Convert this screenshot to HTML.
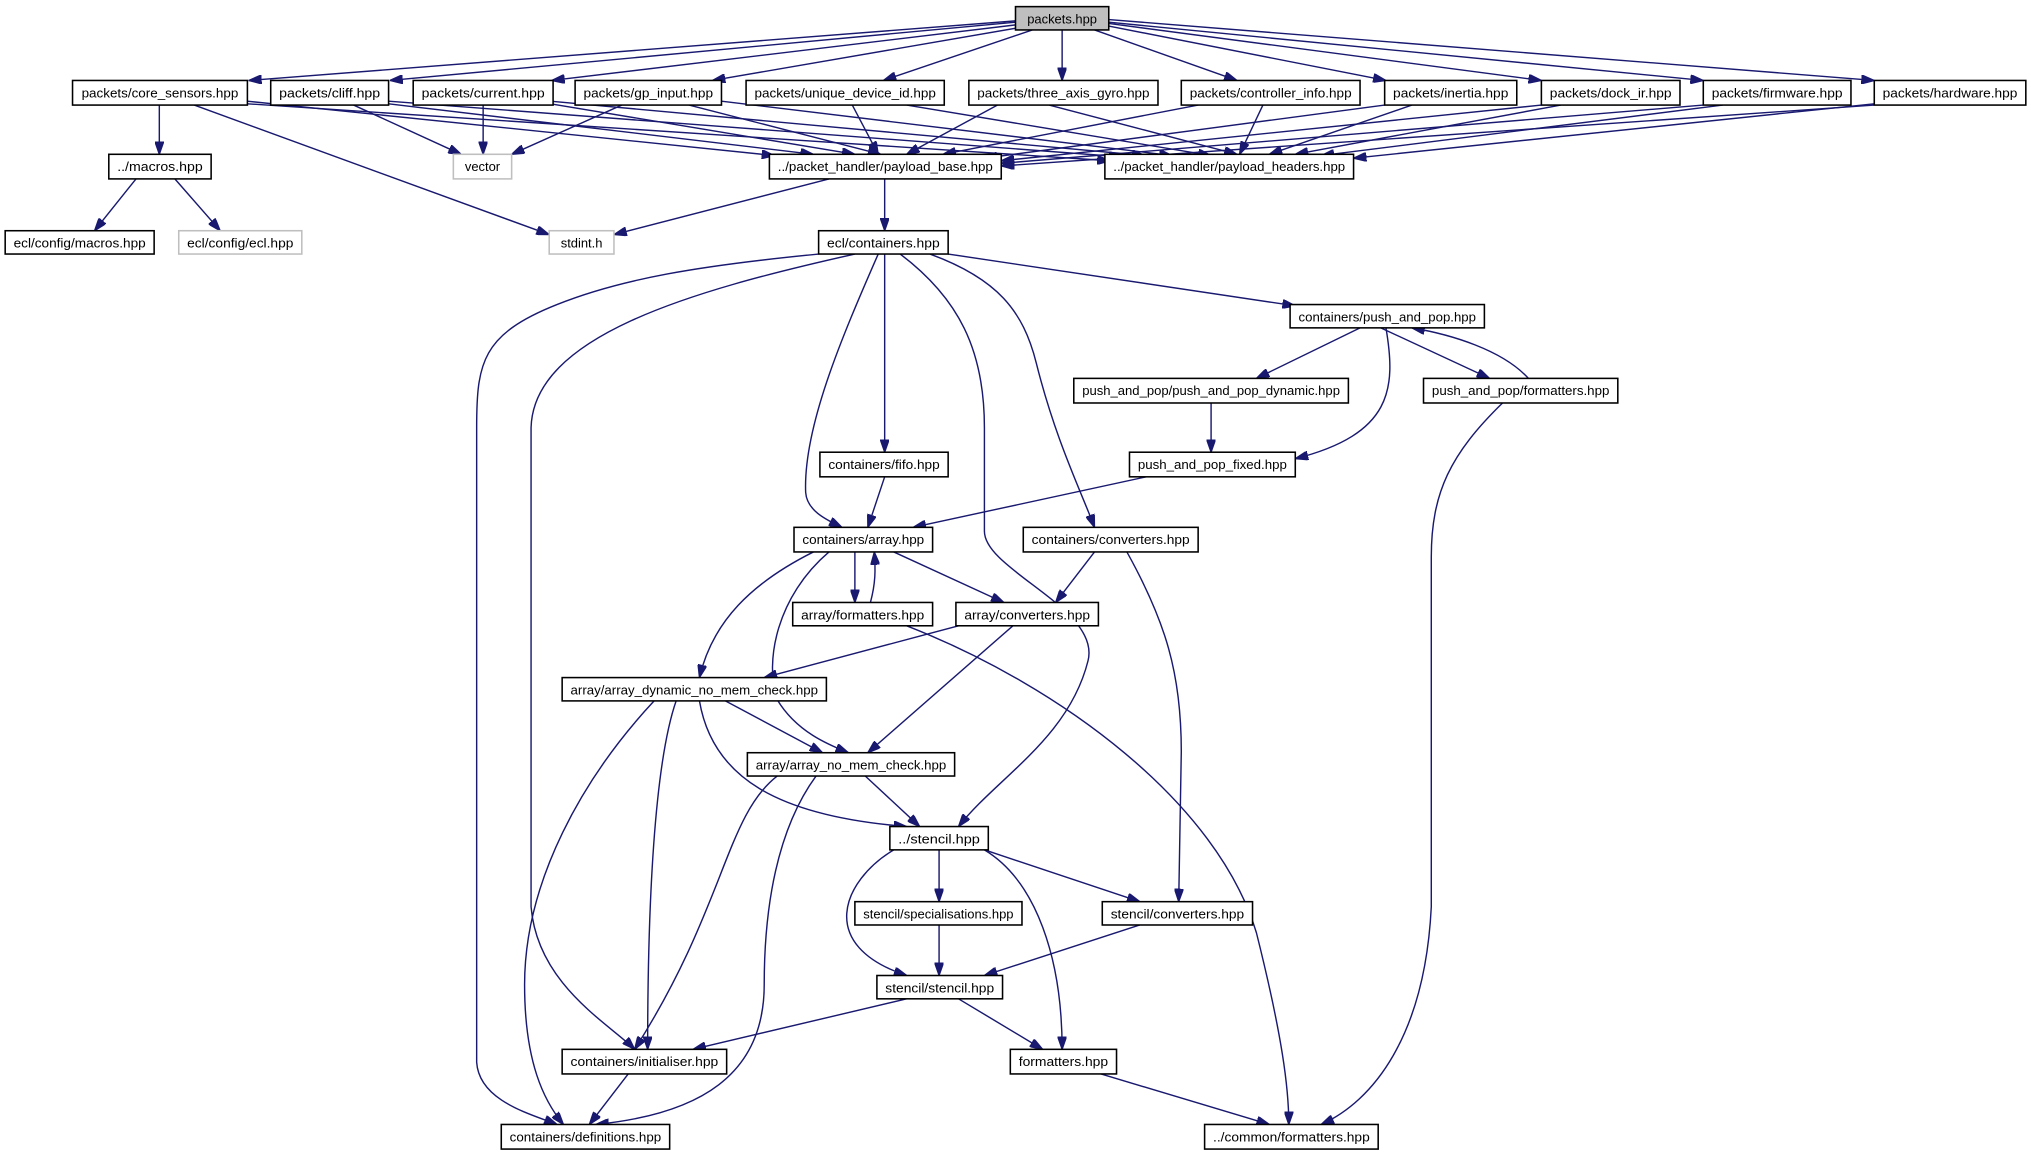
<!DOCTYPE html>
<html><head><meta charset="utf-8"><style>
html,body{margin:0;padding:0;background:#fff;}
svg{display:block;}
text{font-family:"Liberation Sans",Arial,sans-serif;font-size:10px;fill:#000;}
.b{fill:#fff;stroke:#000;stroke-width:1.2;}
.g{fill:#fff;stroke:#bfbfbf;stroke-width:1.2;}
.e{fill:none;stroke:#191970;stroke-width:1.1;marker-end:url(#a);}
</style></head><body>
<svg width="2031" height="1157" viewBox="0 0 1568 893" xmlns="http://www.w3.org/2000/svg">
<defs><marker id="a" viewBox="0 0 10 7" refX="10" refY="3.5" markerWidth="10" markerHeight="7" markerUnits="userSpaceOnUse" orient="auto"><path d="M0,0L10,3.5L0,7z" fill="#191970" stroke="#191970"/></marker></defs>
<g>
<path class="e" d="M784,16L192,62"/>
<path class="e" d="M784,17L301,62"/>
<path class="e" d="M785,19L426,62"/>
<path class="e" d="M788,21L550,62"/>
<path class="e" d="M797,23L682,62"/>
<path class="e" d="M820,23L820,62"/>
<path class="e" d="M845,23L955,62"/>
<path class="e" d="M856,20L1070,62"/>
<path class="e" d="M856,18L1190,62"/>
<path class="e" d="M856,17L1315,62"/>
<path class="e" d="M856,15L1447,62"/>
<path class="e" d="M123,81L123,119"/>
<path class="e" d="M150,81L424,181"/>
<path class="e" d="M191,78L598,120"/>
<path class="e" d="M191,80L857,124"/>
<path class="e" d="M273,81L356,119"/>
<path class="e" d="M300,80L628,119"/>
<path class="e" d="M300,78L866,121"/>
<path class="e" d="M373,81L373,119"/>
<path class="e" d="M425,80L660,119"/>
<path class="e" d="M425,78L884,120"/>
<path class="e" d="M480,81L395,119"/>
<path class="e" d="M532,81L680,119"/>
<path class="e" d="M557,78L905,120"/>
<path class="e" d="M658,81L678,119"/>
<path class="e" d="M700,81L935,120"/>
<path class="e" d="M770,81L700,119"/>
<path class="e" d="M810,81L955,119"/>
<path class="e" d="M925,81L728,119"/>
<path class="e" d="M975,81L957,119"/>
<path class="e" d="M1069,81L760,122"/>
<path class="e" d="M1090,81L980,119"/>
<path class="e" d="M1190,81L773,124"/>
<path class="e" d="M1205,81L1000,119"/>
<path class="e" d="M1315,81L773,126"/>
<path class="e" d="M1330,81L1020,120"/>
<path class="e" d="M1447,81L773,128"/>
<path class="e" d="M1447,80L1045,122"/>
<path class="e" d="M105,138L73,178"/>
<path class="e" d="M135,138L170,178"/>
<path class="e" d="M640,138L474,181"/>
<path class="e" d="M683,138L683,178"/>
<path class="e" d="M732,196L1000,236"/>
<path class="e" d="M683,196L683,349"/>
<path class="e" d="M678,196C650,260 620,330 622,380C623,395 640,402 650,407"/>
<path class="e" d="M718,196C770,215 790,240 800,280C815,340 835,380 845,407"/>
<path class="e" d="M695,196C740,230 760,270 760,330L760,410C760,440 850,470 840,510C825,570 770,600 740,638"/>
<path class="e" d="M660,196C530,225 412,260 410,330L410,700C415,760 470,790 490,810"/>
<path class="e" d="M632,196C540,205 480,215 430,235C372,258 368,280 368,330L368,820C370,850 410,860 430,868"/>
<path class="e" d="M1050,253L970,292"/>
<path class="e" d="M1066,253L1150,292"/>
<path class="e" d="M1180,292C1160,270 1120,258 1090,253"/>
<path class="e" d="M1070,253C1078,300 1075,335 1000,354"/>
<path class="e" d="M1160,311C1120,350 1105,380 1105,430L1105,700C1100,800 1060,850 1020,868"/>
<path class="e" d="M935,311L935,349"/>
<path class="e" d="M885,368L705,407"/>
<path class="e" d="M683,368L670,407"/>
<path class="e" d="M845,426L815,465"/>
<path class="e" d="M870,426C900,480 912,520 912,580L910,696"/>
<path class="e" d="M660,426L660,465"/>
<path class="e" d="M672,465C676,450 676,440 675,426"/>
<path class="e" d="M690,426L775,465"/>
<path class="e" d="M628,426C580,450 550,480 540,523"/>
<path class="e" d="M640,426C600,460 590,510 600,540C615,565 640,575 655,581"/>
<path class="e" d="M700,483C820,530 940,620 970,720C990,800 995,840 995,868"/>
<path class="e" d="M740,483L590,523"/>
<path class="e" d="M782,483L670,581"/>
<path class="e" d="M560,541L635,581"/>
<path class="e" d="M540,541C550,600 600,630 700,638"/>
<path class="e" d="M522,541C505,590 500,700 500,810"/>
<path class="e" d="M505,541C450,600 405,680 405,760C405,820 420,850 435,868"/>
<path class="e" d="M668,599L710,638"/>
<path class="e" d="M600,599C560,630 560,700 490,810"/>
<path class="e" d="M630,599C600,640 590,700 590,760C590,830 540,860 460,868"/>
<path class="e" d="M725,656L725,696"/>
<path class="e" d="M690,656C650,680 630,730 700,753"/>
<path class="e" d="M760,656L880,696"/>
<path class="e" d="M760,656C800,680 820,740 820,810"/>
<path class="e" d="M725,714L725,753"/>
<path class="e" d="M880,714L760,753"/>
<path class="e" d="M700,771L535,810"/>
<path class="e" d="M740,771L805,810"/>
<path class="e" d="M485,829L455,868"/>
<path class="e" d="M850,829L980,868"/>
</g>
<g>
<rect x="784" y="5" width="72" height="18" fill="#bfbfbf" stroke="#000" stroke-width="1.2"/><text x="820" y="18" text-anchor="middle">packets.hpp</text>
<rect class="b" x="56" y="62" width="135" height="19"/><text x="123.5" y="75" text-anchor="middle" textLength="121" lengthAdjust="spacingAndGlyphs">packets/core_sensors.hpp</text>
<rect class="b" x="209" y="62" width="91" height="19"/><text x="254.5" y="75" text-anchor="middle" textLength="78" lengthAdjust="spacingAndGlyphs">packets/cliff.hpp</text>
<rect class="b" x="319" y="62" width="108" height="19"/><text x="373" y="75" text-anchor="middle" textLength="95" lengthAdjust="spacingAndGlyphs">packets/current.hpp</text>
<rect class="b" x="444" y="62" width="113" height="19"/><text x="500.5" y="75" text-anchor="middle" textLength="100" lengthAdjust="spacingAndGlyphs">packets/gp_input.hpp</text>
<rect class="b" x="576" y="62" width="153" height="19"/><text x="652.5" y="75" text-anchor="middle" textLength="140" lengthAdjust="spacingAndGlyphs">packets/unique_device_id.hpp</text>
<rect class="b" x="748" y="62" width="146" height="19"/><text x="821" y="75" text-anchor="middle" textLength="133" lengthAdjust="spacingAndGlyphs">packets/three_axis_gyro.hpp</text>
<rect class="b" x="912" y="62" width="138" height="19"/><text x="981" y="75" text-anchor="middle" textLength="125" lengthAdjust="spacingAndGlyphs">packets/controller_info.hpp</text>
<rect class="b" x="1069" y="62" width="102" height="19"/><text x="1120" y="75" text-anchor="middle" textLength="89" lengthAdjust="spacingAndGlyphs">packets/inertia.hpp</text>
<rect class="b" x="1190" y="62" width="107" height="19"/><text x="1243.5" y="75" text-anchor="middle" textLength="94" lengthAdjust="spacingAndGlyphs">packets/dock_ir.hpp</text>
<rect class="b" x="1315" y="62" width="114" height="19"/><text x="1372" y="75" text-anchor="middle" textLength="101" lengthAdjust="spacingAndGlyphs">packets/firmware.hpp</text>
<rect class="b" x="1447" y="62" width="117" height="19"/><text x="1505.5" y="75" text-anchor="middle" textLength="104" lengthAdjust="spacingAndGlyphs">packets/hardware.hpp</text>
<rect class="b" x="84" y="119" width="79" height="19"/><text x="123.5" y="132" text-anchor="middle" textLength="66" lengthAdjust="spacingAndGlyphs">../macros.hpp</text>
<rect class="g" x="350" y="119" width="45" height="19"/><text x="372.5" y="132" text-anchor="middle">vector</text>
<rect class="b" x="594" y="119" width="179" height="19"/><text x="683.5" y="132" text-anchor="middle" textLength="166" lengthAdjust="spacingAndGlyphs">../packet_handler/payload_base.hpp</text>
<rect class="b" x="853" y="119" width="192" height="19"/><text x="949" y="132" text-anchor="middle" textLength="179" lengthAdjust="spacingAndGlyphs">../packet_handler/payload_headers.hpp</text>
<rect class="b" x="4" y="178" width="115" height="18"/><text x="61.5" y="191" text-anchor="middle" textLength="102" lengthAdjust="spacingAndGlyphs">ecl/config/macros.hpp</text>
<rect class="g" x="138" y="178" width="95" height="18"/><text x="185.5" y="191" text-anchor="middle" textLength="82" lengthAdjust="spacingAndGlyphs">ecl/config/ecl.hpp</text>
<rect class="g" x="424" y="178" width="50" height="18"/><text x="449" y="191" text-anchor="middle">stdint.h</text>
<rect class="b" x="632" y="178" width="100" height="18"/><text x="682" y="191" text-anchor="middle" textLength="87" lengthAdjust="spacingAndGlyphs">ecl/containers.hpp</text>
<rect class="b" x="996" y="235" width="150" height="18"/><text x="1071" y="248" text-anchor="middle" textLength="137" lengthAdjust="spacingAndGlyphs">containers/push_and_pop.hpp</text>
<rect class="b" x="829" y="292" width="212" height="19"/><text x="935" y="305" text-anchor="middle" textLength="199" lengthAdjust="spacingAndGlyphs">push_and_pop/push_and_pop_dynamic.hpp</text>
<rect class="b" x="1099" y="292" width="150" height="19"/><text x="1174" y="305" text-anchor="middle" textLength="137" lengthAdjust="spacingAndGlyphs">push_and_pop/formatters.hpp</text>
<rect class="b" x="633" y="349" width="99" height="19"/><text x="682.5" y="362" text-anchor="middle" textLength="86" lengthAdjust="spacingAndGlyphs">containers/fifo.hpp</text>
<rect class="b" x="872" y="349" width="128" height="19"/><text x="936" y="362" text-anchor="middle" textLength="115" lengthAdjust="spacingAndGlyphs">push_and_pop_fixed.hpp</text>
<rect class="b" x="613" y="407" width="107" height="19"/><text x="666.5" y="420" text-anchor="middle" textLength="94" lengthAdjust="spacingAndGlyphs">containers/array.hpp</text>
<rect class="b" x="790" y="407" width="135" height="19"/><text x="857.5" y="420" text-anchor="middle" textLength="122" lengthAdjust="spacingAndGlyphs">containers/converters.hpp</text>
<rect class="b" x="612" y="465" width="108" height="18"/><text x="666" y="478" text-anchor="middle" textLength="95" lengthAdjust="spacingAndGlyphs">array/formatters.hpp</text>
<rect class="b" x="738" y="465" width="110" height="18"/><text x="793" y="478" text-anchor="middle" textLength="97" lengthAdjust="spacingAndGlyphs">array/converters.hpp</text>
<rect class="b" x="434" y="523" width="204" height="18"/><text x="536" y="536" text-anchor="middle" textLength="191" lengthAdjust="spacingAndGlyphs">array/array_dynamic_no_mem_check.hpp</text>
<rect class="b" x="577" y="581" width="160" height="18"/><text x="657" y="594" text-anchor="middle" textLength="147" lengthAdjust="spacingAndGlyphs">array/array_no_mem_check.hpp</text>
<rect class="b" x="687" y="638" width="76" height="18"/><text x="725" y="651" text-anchor="middle" textLength="63" lengthAdjust="spacingAndGlyphs">../stencil.hpp</text>
<rect class="b" x="660" y="696" width="129" height="18"/><text x="724.5" y="709" text-anchor="middle" textLength="116" lengthAdjust="spacingAndGlyphs">stencil/specialisations.hpp</text>
<rect class="b" x="851" y="696" width="116" height="18"/><text x="909" y="709" text-anchor="middle" textLength="103" lengthAdjust="spacingAndGlyphs">stencil/converters.hpp</text>
<rect class="b" x="677" y="753" width="97" height="18"/><text x="725.5" y="766" text-anchor="middle" textLength="84" lengthAdjust="spacingAndGlyphs">stencil/stencil.hpp</text>
<rect class="b" x="434" y="810" width="127" height="19"/><text x="497.5" y="823" text-anchor="middle" textLength="114" lengthAdjust="spacingAndGlyphs">containers/initialiser.hpp</text>
<rect class="b" x="780" y="810" width="82" height="19"/><text x="821" y="823" text-anchor="middle" textLength="69" lengthAdjust="spacingAndGlyphs">formatters.hpp</text>
<rect class="b" x="387" y="868" width="130" height="19"/><text x="452" y="881" text-anchor="middle" textLength="117" lengthAdjust="spacingAndGlyphs">containers/definitions.hpp</text>
<rect class="b" x="930" y="868" width="134" height="19"/><text x="997" y="881" text-anchor="middle" textLength="121" lengthAdjust="spacingAndGlyphs">../common/formatters.hpp</text>
</g>
</svg>
</body></html>
